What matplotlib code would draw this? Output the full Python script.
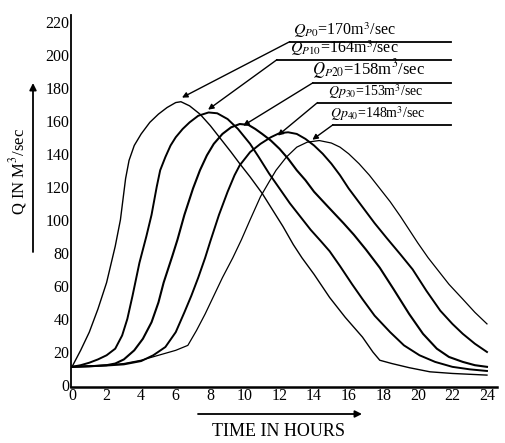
import numpy as np
import matplotlib
matplotlib.use("Agg")
import matplotlib.pyplot as plt

plt.rcParams['font.family'] = ['Liberation Serif', 'DejaVu Serif']
plt.rcParams['mathtext.fontset'] = 'stix'

# hydrographs (time in hours, Q in m3/sec)
t1 = [0, 0.5, 1, 1.5, 2, 2.5, 2.8, 3.1, 3.3, 3.6, 4, 4.5, 5, 5.5, 6, 6.3,
      6.8, 7.4, 8, 8.6, 9.2, 9.7, 10.3, 11, 11.6, 12.2, 12.8, 13.3, 14, 14.9, 15.8, 16.8,
      17.4, 17.8, 18.5, 19.5, 20.7, 22, 23, 24]
q1 = [11, 21, 32, 46, 62, 84, 100, 125, 136, 145, 152, 159, 164, 168, 171, 171.5,
      169, 164, 157, 149, 141, 134, 126, 116, 106, 96, 85, 77, 67, 53, 41, 29,
      20, 15, 13, 10.5, 8, 7, 6.5, 6]

t2 = [0, 0.5, 1, 1.5, 2, 2.5, 2.9, 3.2, 3.5, 3.9, 4.3, 4.6, 4.9, 5.1, 5.4, 5.7, 6, 6.4, 6.8, 7.3, 7.9, 8.4,
      9, 9.6, 10.3, 10.8, 11.4, 12, 12.6, 13.2, 13.8, 14.4, 14.9, 15.5, 16.2, 16.8, 17.5, 18.4,
      19.2, 20.1, 21, 22, 23, 24]
q2 = [11, 12, 13.5, 15.5, 18, 22, 30, 40, 54, 74, 90, 103, 120, 130, 138, 145, 150, 155, 159, 163, 165, 164.5,
      161, 155, 146, 138, 128, 119, 110, 102, 94, 87, 81, 72, 61, 52, 42, 32,
      24, 18, 14, 11, 9.5, 8.5]

t3 = [0, 1, 2, 2.5, 3, 3.6, 4.1, 4.6, 5, 5.3, 5.8, 6.1, 6.5, 7, 7.4, 7.8, 8.2, 8.7, 9.2, 9.7, 10.2,
      10.6, 11, 11.5, 12, 12.5, 13, 13.5, 14, 14.8, 15.7, 16.3, 17, 17.8, 18.6, 19.5, 20.3,
      21.1, 21.8, 22.6, 23.3, 24]
q3 = [11, 11.3, 12, 13, 15.5, 21, 28, 38, 50, 62, 78, 88, 103, 119, 130, 139, 146, 152, 156, 158, 157.5,
      155, 152, 148, 143, 137, 130, 124, 117, 108, 98, 91, 82, 71, 58, 43, 31,
      22, 17, 14, 12, 11]

t4 = [0, 2, 3, 4, 4.7, 5.4, 6, 6.5, 6.9, 7.3, 7.7, 8, 8.5, 9, 9.4, 9.7, 10.3, 10.9, 11.5, 12, 12.5,
      13, 13.5, 14, 14.5, 15, 15.5, 16, 16.5, 17, 17.5, 18.2, 19, 19.7, 20.5, 21.3, 22, 22.6, 23.3, 24]
q4 = [11, 11.8, 12.5, 14.5, 18, 23, 32, 44, 54, 65, 77, 87, 103, 117, 127, 133, 141, 146, 150, 152.5, 153,
      152, 149, 145, 140, 134, 127, 119, 112, 105, 98, 89, 79, 70, 57, 45, 37, 31, 25, 20]

t5 = [0, 2, 3, 4, 5, 6, 6.7, 7.2, 7.7, 8.2, 8.7, 9.3, 9.8, 10.3, 10.9, 11.4, 11.8, 12.4, 13, 13.6, 14.3,
      15, 15.5, 16, 16.6, 17.2, 17.8, 18.4, 19, 19.5, 20, 20.6, 21.2, 21.8, 22.6, 23.3, 24]
q5 = [11, 12, 13, 15, 18, 21, 24, 33, 43, 54, 65, 77, 88, 100, 114, 123, 130, 138, 144, 147, 148,
      146.5, 144, 140, 134, 127, 119, 111, 102, 94, 86, 77, 69, 61, 52, 44, 37]

labels = [r"$Q_{P0}$=170m$^3$/sec", r"$Q_{P10}$=164m$^3$/sec", r"$Q_{P20}$=158m$^3$/sec",
          r"$Qp_{30}$=153m$^3$/sec", r"$Qp_{40}$=148m$^3$/sec"]
peak_t = [6.36, 7.87, 9.9, 11.9, 13.9]
peak_q = [174, 166.7, 157, 151, 148.5]

fig = plt.figure(figsize=(5.05, 4.43), dpi=100)
ax = fig.add_axes([71/505, 56/443, 426/505, 372/443])

ax.plot(t1, q1, c='black', lw=1.0)
ax.plot(t2, q2, c='black', lw=1.4)
ax.plot(t3, q3, c='black', lw=1.5)
ax.plot(t4, q4, c='black', lw=1.4)
ax.plot(t5, q5, c='black', lw=0.9)

# label positions: underline start, underline level, text start, font size
line_t0 = [12.6, 11.86, 13.94, 14.2, 15.1]
line_q = [207.9, 197, 183, 171, 157.6]
text_t = [12.8, 12.6, 13.9, 14.8, 14.9]
fsz = [11.5, 11.5, 12, 10, 10]
for i in range(5):
    ax.plot([line_t0[i], 21.9], [line_q[i], line_q[i]], c='black', lw=1.3)
    ax.annotate('', xy=(peak_t[i], peak_q[i]), xytext=(line_t0[i], line_q[i]),
                arrowprops=dict(arrowstyle='-|>', color='black', lw=1.0,
                                mutation_scale=8, shrinkA=0, shrinkB=0))
    ax.text(text_t[i], line_q[i] + 0.8, labels[i], fontsize=fsz[i], ha='left', va='bottom')

ax.set_xlim(-0.058, 24.58)
ax.set_ylim(-1.2, 224)
ax.set_xticks(range(0, 25, 2))
ax.set_yticks(range(0, 221, 20))
ax.tick_params(length=0, labelsize=11.5, pad=1)
ax.spines['top'].set_visible(False)
ax.spines['right'].set_visible(False)
ax.spines['left'].set_linewidth(1.3)
ax.spines['bottom'].set_linewidth(1.8)

fig.text(278/505, 1 - 432/443, "TIME IN HOURS", fontsize=13, ha='center', va='center')
ax.annotate('', xy=(362/505, 1 - 414/443), xytext=(198/505, 1 - 414/443),
            xycoords='figure fraction', textcoords='figure fraction',
            arrowprops=dict(arrowstyle='-|>', color='black', lw=1.3, mutation_scale=10,
                            shrinkA=0, shrinkB=0))
fig.text(18/505, 1 - 172/443, r"Q IN M$^3$/sec", fontsize=12, rotation=90, ha='center', va='center')
ax.annotate('', xy=(33/505, 1 - 83/443), xytext=(33/505, 1 - 252/443),
            xycoords='figure fraction', textcoords='figure fraction',
            arrowprops=dict(arrowstyle='-|>', color='black', lw=1.3, mutation_scale=10,
                            shrinkA=0, shrinkB=0))

fig.savefig('out.png', dpi=100)
